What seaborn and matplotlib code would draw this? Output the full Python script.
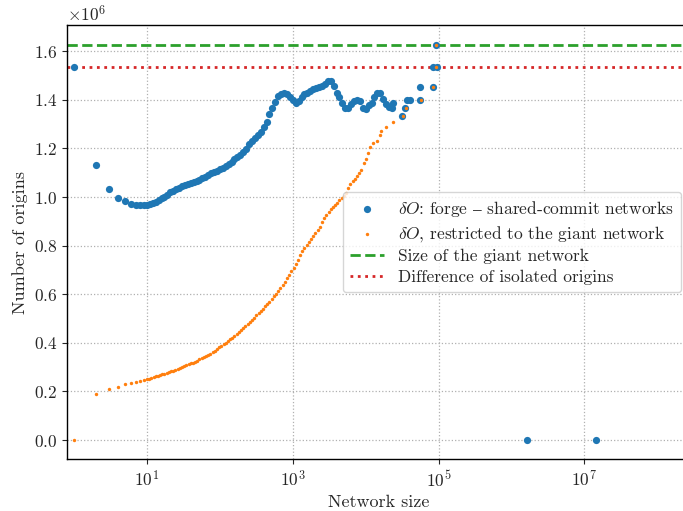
import numpy as np
import matplotlib
matplotlib.use("Agg")
import matplotlib.pyplot as plt
import seaborn as sns
from matplotlib.ticker import NullLocator

blue_log_size = [
    0.0, 0.301, 0.477, 0.602, 0.699, 0.778, 0.845, 0.903, 0.954,
    1.00, 1.04, 1.08, 1.12, 1.16, 1.20, 1.24, 1.28, 1.32, 1.36,
    1.40, 1.44, 1.48, 1.52, 1.56, 1.60, 1.64, 1.68, 1.72, 1.76,
    1.80, 1.84, 1.88, 1.92, 1.96, 2.00, 2.04, 2.08, 2.12, 2.16,
    2.20, 2.24, 2.28, 2.32, 2.36, 2.40, 2.44, 2.48, 2.52, 2.56,
    2.60, 2.64, 2.68, 2.72, 2.76, 2.80, 2.84, 2.88, 2.92, 2.96,
    3.00, 3.04, 3.08, 3.12, 3.16, 3.20, 3.24, 3.28, 3.32, 3.36,
    3.40, 3.44, 3.48, 3.52, 3.56, 3.60, 3.64, 3.68, 3.72, 3.76,
    3.80, 3.84, 3.88, 3.92, 3.96, 4.00, 4.04, 4.08, 4.12, 4.16,
    4.20, 4.24, 4.28, 4.32,
    4.357, 4.379, 4.494, 4.539, 4.562, 4.608, 4.745, 4.745, 4.919,
    4.928, 4.974, 4.964, 6.213, 7.159,
]
blue_origins_m = [
    1.536, 1.130, 1.035, 0.997, 0.982, 0.972, 0.968, 0.967, 0.967,
    0.969, 0.971, 0.976, 0.981, 0.988, 0.995, 1.002, 1.010, 1.019, 1.025,
    1.031, 1.038, 1.046, 1.050, 1.054, 1.058, 1.061, 1.065, 1.071, 1.077,
    1.084, 1.090, 1.097, 1.102, 1.107, 1.114, 1.120, 1.128, 1.137, 1.146,
    1.158, 1.164, 1.172, 1.186, 1.198, 1.220, 1.232, 1.244, 1.254, 1.268,
    1.290, 1.310, 1.340, 1.365, 1.392, 1.415, 1.424, 1.426, 1.422, 1.412,
    1.398, 1.388, 1.396, 1.412, 1.424, 1.430, 1.437, 1.443, 1.448, 1.452,
    1.457, 1.463, 1.476, 1.478, 1.455, 1.430, 1.410, 1.388, 1.365, 1.366,
    1.384, 1.395, 1.401, 1.396, 1.365, 1.362, 1.378, 1.388, 1.410, 1.428,
    1.430, 1.405, 1.382, 1.370,
    1.365, 1.386, 1.333, 1.365, 1.399, 1.399, 1.454, 1.399, 1.454,
    1.536, 1.536, 1.627, 0.0, 0.0,
]

orange_log_size = [
    0.0, 0.301, 0.477, 0.602, 0.699, 0.778, 0.845, 0.903, 0.954,
    1.00, 1.03, 1.06, 1.09, 1.12, 1.15, 1.18, 1.21, 1.24, 1.27,
    1.30, 1.33, 1.36, 1.39, 1.42, 1.45, 1.48, 1.51, 1.54, 1.57,
    1.60, 1.63, 1.66, 1.69, 1.72, 1.75, 1.78, 1.81, 1.84, 1.87,
    1.90, 1.93, 1.96, 1.99, 2.02, 2.05, 2.08, 2.11, 2.14, 2.17,
    2.20, 2.23, 2.26, 2.29, 2.32, 2.35, 2.38, 2.41, 2.44, 2.47,
    2.50, 2.53, 2.56, 2.59, 2.62, 2.65, 2.68, 2.71, 2.74, 2.77,
    2.80, 2.83, 2.86, 2.89, 2.92, 2.95, 2.98, 3.01, 3.04, 3.07,
    3.10, 3.13, 3.16, 3.19, 3.22, 3.25, 3.28, 3.31, 3.34, 3.37,
    3.40, 3.43, 3.46, 3.49, 3.52, 3.55, 3.58, 3.61, 3.64, 3.67,
    3.70, 3.73, 3.76, 3.79, 3.82, 3.85, 3.88, 3.91, 3.94, 3.97,
    4.00, 4.03, 4.06,
    4.104, 4.151, 4.196, 4.205, 4.279, 4.379, 4.516, 4.553, 4.755,
    4.919, 4.964, 4.964,
]
orange_origins_m = [
    0.0, 0.188, 0.210, 0.219, 0.230, 0.235, 0.239, 0.243, 0.246,
    0.250, 0.253, 0.256, 0.259, 0.262, 0.265, 0.268, 0.270, 0.273, 0.277,
    0.280, 0.283, 0.286, 0.289, 0.293, 0.296, 0.300, 0.303, 0.307, 0.311,
    0.315, 0.318, 0.322, 0.327, 0.332, 0.336, 0.341, 0.346, 0.351, 0.356,
    0.362, 0.368, 0.375, 0.381, 0.388, 0.394, 0.401, 0.407, 0.414, 0.421,
    0.429, 0.437, 0.444, 0.452, 0.460, 0.468, 0.477, 0.486, 0.495, 0.504,
    0.513, 0.522, 0.531, 0.540, 0.550, 0.559, 0.569, 0.580, 0.591, 0.602,
    0.613, 0.626, 0.639, 0.652, 0.666, 0.680, 0.695, 0.709, 0.725, 0.742,
    0.760, 0.777, 0.790, 0.802, 0.815, 0.828, 0.839, 0.851, 0.865, 0.877,
    0.898, 0.915, 0.927, 0.938, 0.950, 0.959, 0.968, 0.977, 0.986, 0.995,
    1.003, 1.015, 1.037, 1.052, 1.064, 1.075, 1.087, 1.100, 1.112, 1.138,
    1.155, 1.182, 1.205,
    1.221, 1.232, 1.255, 1.273, 1.290, 1.307, 1.333, 1.365, 1.399,
    1.454, 1.536, 1.627,
]

giant_network_size = 1.625e6
isolated_origins_diff = 1.535e6

x_ticks = [1e1, 1e3, 1e5, 1e7]
y_ticks = [0, 0.2e6, 0.4e6, 0.6e6, 0.8e6, 1.0e6, 1.2e6, 1.4e6, 1.6e6]

sns.set_style("ticks")
plt.rcParams["font.family"] = ["cmr10", "DejaVu Serif"]
plt.rcParams["mathtext.fontset"] = "cm"
plt.rcParams["axes.formatter.use_mathtext"] = True
plt.rcParams["axes.unicode_minus"] = False
plt.rcParams["font.size"] = 12.5

blue_x = 10 ** np.array(blue_log_size)
blue_y = np.array(blue_origins_m) * 1e6
orange_x = 10 ** np.array(orange_log_size)
orange_y = np.array(orange_origins_m) * 1e6

fig = plt.figure(figsize=(6.83, 5.11), dpi=100)
ax = fig.add_axes([0.0985, 0.1018, 0.9117, 0.8487])

sns.scatterplot(x=blue_x, y=blue_y, ax=ax, color="#1f77b4", s=27, linewidth=0,
                label=r"$\delta O$: forge $–$ shared-commit networks", zorder=3)
sns.scatterplot(x=orange_x, y=orange_y, ax=ax, color="#ff7f0e", s=6, linewidth=0,
                label=r"$\delta O$, restricted to the giant network", zorder=4)
ax.axhline(giant_network_size, color="#2ca02c", ls="--", lw=2, label="Size of the giant network")
ax.axhline(isolated_origins_diff, color="#d62728", ls=":", lw=2, label="Difference of isolated origins")

ax.set_xscale("log")
ax.set_xlim(0.807, 2.8e8)
ax.set_ylim(-0.078e6, 1.7066e6)
ax.set_xticks(x_ticks)
ax.xaxis.set_minor_locator(NullLocator())
ax.set_yticks(y_ticks)

ax.grid(True, ls=":", color="#b0b0b0", lw=0.9)
ax.set_xlabel("Network size", fontsize=13)
ax.set_ylabel("Number of origins", fontsize=13)
ax.tick_params(labelsize=12.5, length=3.5, width=0.8)
for sp in ax.spines.values():
    sp.set_linewidth(1.0)
    sp.set_color("black")

ax.legend(loc="center right", fontsize=12.5, labelspacing=0.3, frameon=True)

fig.savefig("out.png", dpi=100)
